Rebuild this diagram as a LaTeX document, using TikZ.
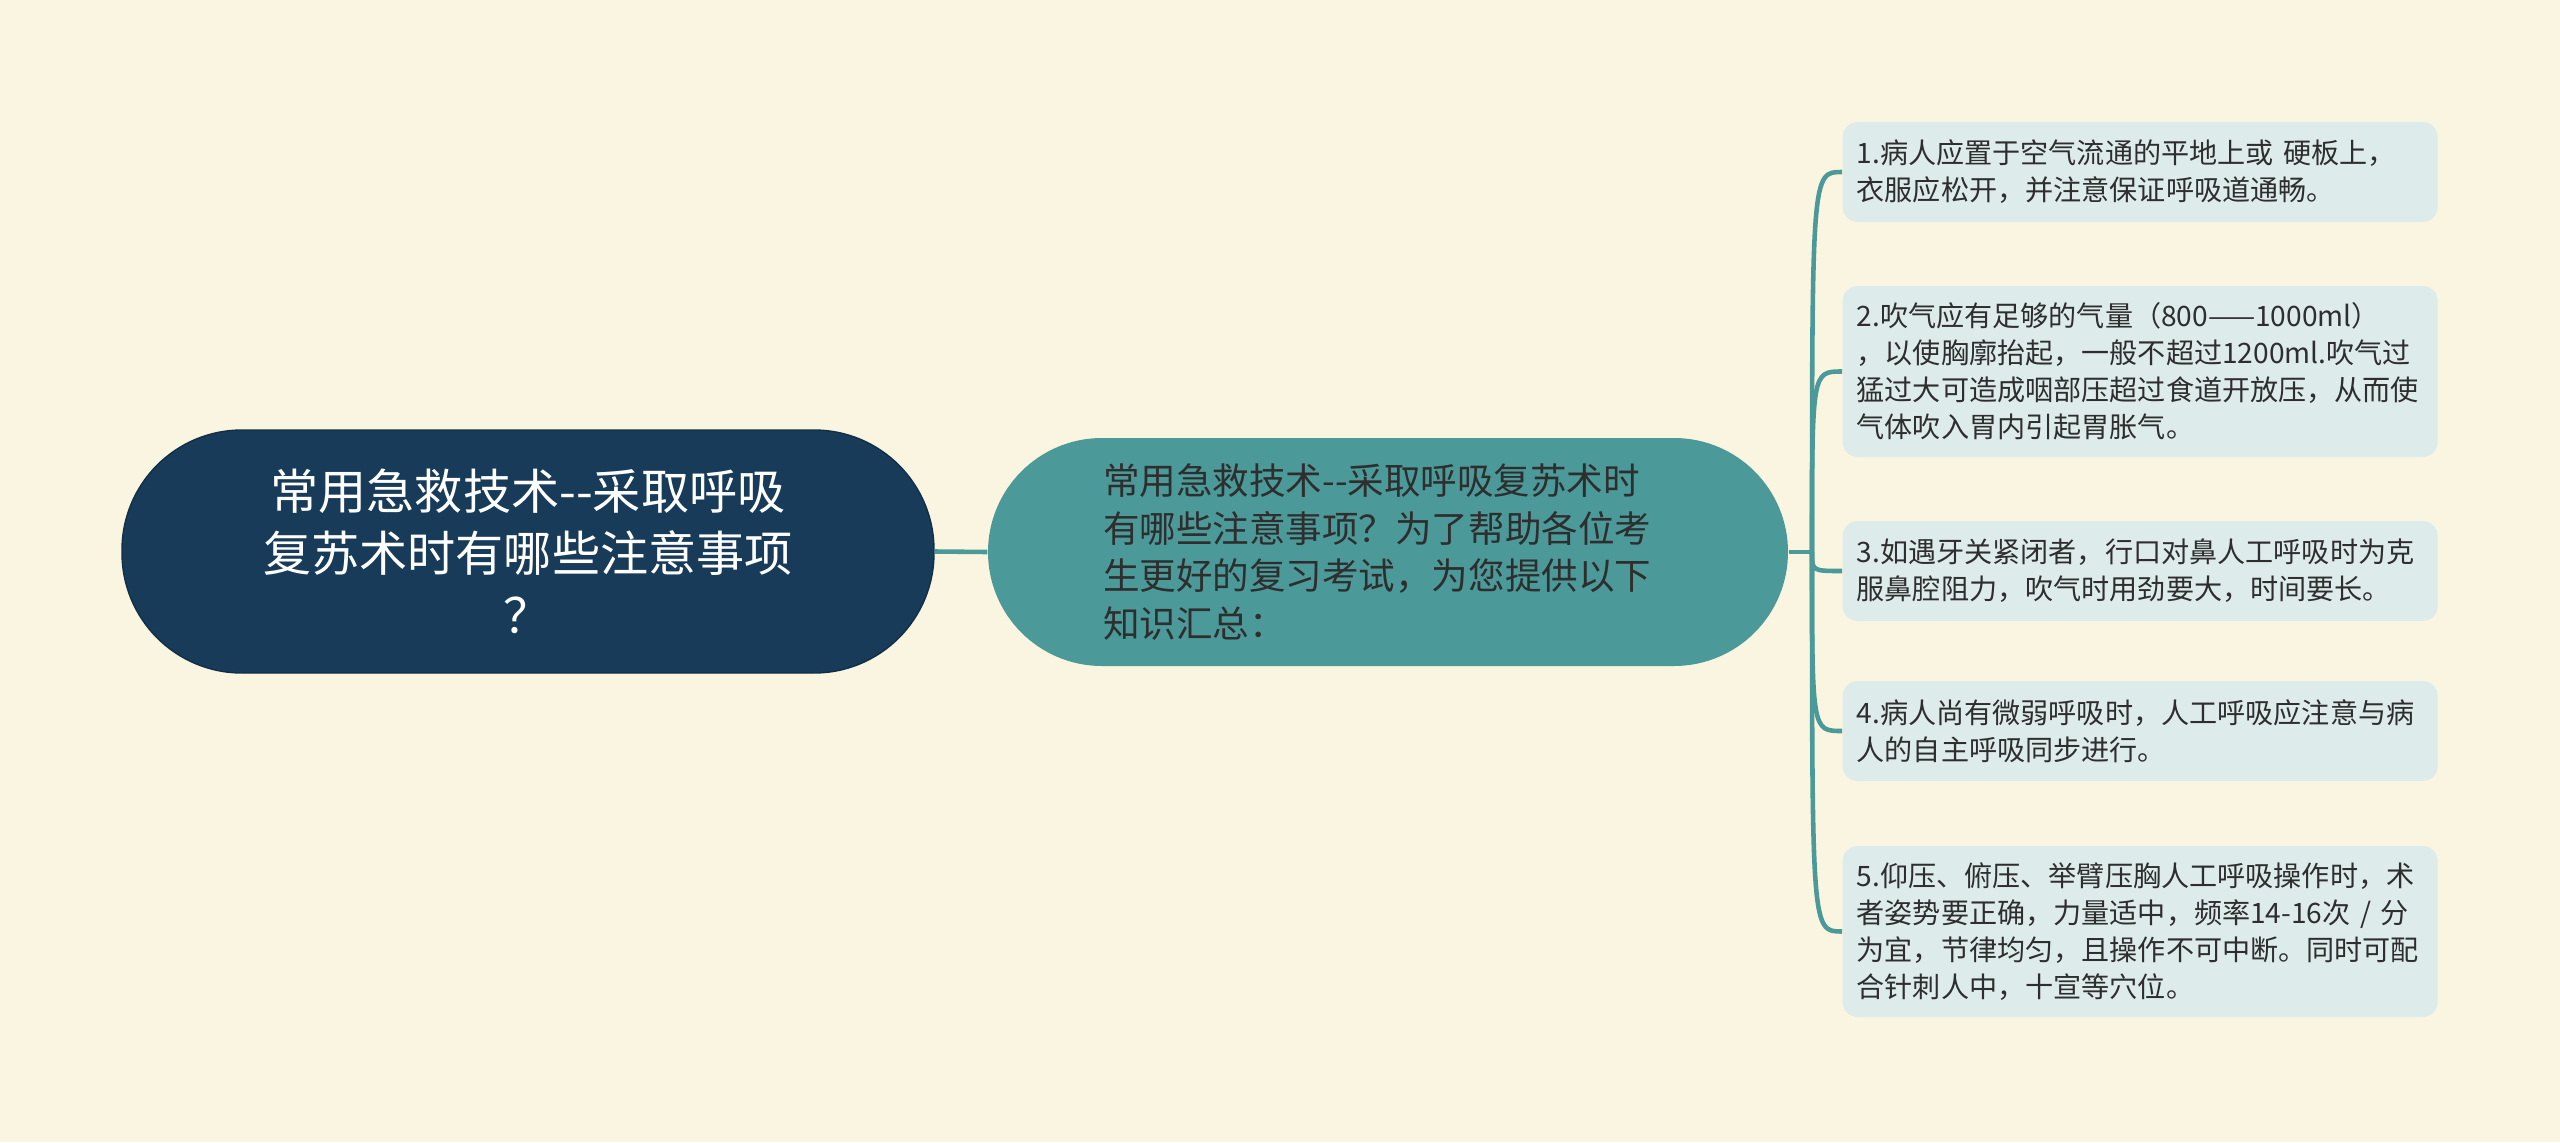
\documentclass[tikz,border=0pt]{standalone}
\usepackage{fontspec}
\usepackage{tikz}
\setmainfont{Noto Sans CJK SC}
\usetikzlibrary{positioning}
\tikzset{rootbox/.style = {fill=mnavy, draw=mnavy!80!black, text=white, rounded corners=1.2cm,
                           minimum width=8.12cm, minimum height=2.43cm, inner sep=0pt,
                           text width=6.6cm, align=center, font=\fontsize{13.7}{17.6}\selectfont},
         midbox/.style = {fill=mteal, text=mtext, rounded corners=1.14cm,
                          minimum width=8cm, minimum height=2.28cm, inner sep=0pt,
                          text width=5.7cm, align=left, font=\fontsize{10.4}{13.5}\selectfont},
         leafbox/.style = {fill=mleaf, text=mtext, rounded corners=0.15cm, anchor=west,
                           minimum width=5.95cm, inner xsep=0.14cm, inner ysep=0.15cm,
                           text width=5.67cm, align=left, font=\fontsize{8}{10.5}\selectfont},
         branch/.style = {draw=mteal, line width=1.3pt}}
\definecolor{mbg}{rgb}{0.98, 0.96, 0.88}
\definecolor{mnavy}{rgb}{0.09, 0.23, 0.35}
\definecolor{mteal}{rgb}{0.30, 0.60, 0.60}
\definecolor{mleaf}{rgb}{0.87, 0.92, 0.92}
\definecolor{mtext}{rgb}{0.18, 0.18, 0.18}
\begin{document}
\begin{tikzpicture}
    \fill [mbg] (0, 0) rectangle (25.6, 11.42);
    \useasboundingbox (0, 0) rectangle (25.6, 11.42);

    \node [rootbox] (root) at (5.28, 5.905) {常用急救技术-{}-采取呼吸\\复苏术时有哪些注意事项\\？};
    \node [midbox] (mid) at (13.88, 5.90) {常用急救技术-{}-采取呼吸复苏术时\\有哪些注意事项？为了帮助各位考\\生更好的复习考试，为您提供以下\\知识汇总：};

    \node [leafbox, minimum height=1.0cm] (l1) at (18.42, 9.70) {1.病人应置于空气流通的平地上或 硬板上，\\衣服应松开，并注意保证呼吸道通畅。};
    \node [leafbox, minimum height=1.71cm] (l2) at (18.42, 7.705) {2.吹气应有足够的气量（800——1000ml）\\，以使胸廓抬起，一般不超过1200ml.吹气过\\猛过大可造成咽部压超过食道开放压，从而使\\气体吹入胃内引起胃胀气。};
    \node [leafbox, minimum height=1.0cm] (l3) at (18.42, 5.71) {3.如遇牙关紧闭者，行口对鼻人工呼吸时为克\\服鼻腔阻力，吹气时用劲要大，时间要长。};
    \node [leafbox, minimum height=1.0cm] (l4) at (18.42, 4.11) {4.病人尚有微弱呼吸时，人工呼吸应注意与病\\人的自主呼吸同步进行。};
    \node [leafbox, minimum height=1.71cm] (l5) at (18.42, 2.105) {5.仰压、俯压、举臂压胸人工呼吸操作时，术\\者姿势要正确，力量适中，频率14-16次 / 分\\为宜，节律均匀，且操作不可中断。同时可配\\合针刺人中，十宣等穴位。};

    \coordinate (fork) at (18.12, 5.90);

    \draw [branch] (root.east) -- (mid.west);
    \draw [branch] (mid.east) -- (fork);
    \foreach \i in {1, ..., 5} {
      \draw [branch] (fork) .. controls (fork |- l\i.west) .. (l\i.west);
    }

  \end{tikzpicture}
\end{document}
